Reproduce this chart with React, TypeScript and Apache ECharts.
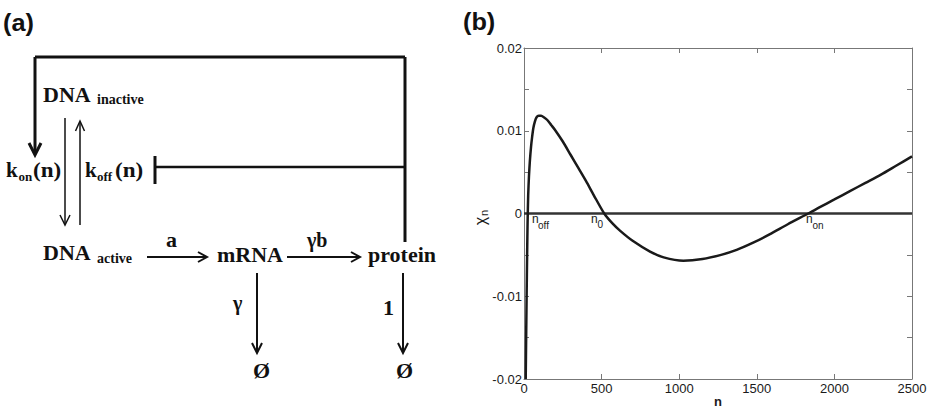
import React, { useEffect, useRef } from 'react';
import * as echarts from 'echarts';

// ---- data (panel b) ----
const nValues = [
  11, 14, 17, 20, 23, 27, 32, 38, 45, 52, 60, 70, 80, 95, 110, 130, 150, 175, 200,
  250, 300, 350, 400, 450, 517, 570, 620, 700, 812, 900, 1027, 1150, 1270, 1370,
  1480, 1585, 1700, 1832, 1900, 2000, 2100, 2200, 2300, 2400, 2500,
];
const gammaValues = [
  -0.02, -0.0148, -0.0098, -0.0052, -0.0012, 0.0022, 0.0045, 0.0064, 0.008, 0.0092,
  0.0103, 0.0111, 0.0116, 0.0118, 0.0118, 0.0116, 0.0113, 0.0107, 0.0101,
  0.0087, 0.0071, 0.0055, 0.0039, 0.0022, 0.0, -0.0012, -0.0021, -0.0033, -0.0046,
  -0.0053, -0.0057, -0.0055, -0.005, -0.0044, -0.0035, -0.0025, -0.0013, 0.0,
  0.0007, 0.0017, 0.0027, 0.0037, 0.0047, 0.0058, 0.0069,
];
const zeroLineN = [0, 2500];
const zeroLineValues = [0, 0];
const yTickLabels = ['-0.02', '-0.01', '0', '0.01', '0.02'];

const serif = '"Liberation Serif", "Times New Roman", serif';
const sans = '"Liberation Sans", Arial, Helvetica, sans-serif';
const INK = '#111';

const ln = (x1: number, y1: number, x2: number, y2: number, w = 2) => ({
  type: 'line',
  silent: true,
  shape: { x1, y1, x2, y2 },
  style: { stroke: INK, lineWidth: w },
});
const head = (pts: number[][], w = 2) => ({
  type: 'polyline',
  silent: true,
  shape: { points: pts },
  style: { stroke: INK, lineWidth: w, fill: null },
});
const tx = (
  text: string,
  x: number,
  y: number,
  size: number,
  o: { ff?: string; fw?: string; sx?: number; align?: string; color?: string } = {}
) => ({
  type: 'text',
  silent: true,
  x,
  y,
  scaleX: o.sx ?? 1,
  style: {
    text,
    fontSize: size,
    fontFamily: o.ff ?? serif,
    fontWeight: o.fw ?? 'bold',
    fill: o.color ?? INK,
    align: o.align ?? 'left',
    verticalAlign: 'middle',
  },
});

export default function App() {
  const ref = useRef<HTMLDivElement>(null);

  useEffect(() => {
    const chart = echarts.init(ref.current!, null, { renderer: 'svg' });

    const annot = { ff: sans, fw: 'normal', color: '#1a1a1a' };
    const diagram = [
      // panel labels
      tx('(a)', 3, 23, 23, { ff: sans, sx: 1.1 }),
      tx('(b)', 463, 22, 23, { ff: sans, sx: 1.1 }),
      // feedback loop
      ln(35, 57, 405, 57, 3),
      ln(35, 57, 35, 153, 3),
      head([[29, 143], [35, 155], [41, 143]], 3),
      ln(405, 57, 405, 242, 3),
      ln(155, 167, 405, 167, 2.5),
      ln(155, 156, 155, 184, 3),
      // DNA switching arrows
      ln(65, 118, 65, 224, 1.5),
      head([[60, 215], [65, 225], [70, 215]], 1.5),
      ln(80, 225, 80, 122, 1.5),
      head([[75.5, 131], [80, 121], [84.5, 131]], 1.5),
      // production arrows
      ln(147, 257, 206, 257, 2),
      head([[198, 252], [207, 257], [198, 262]], 2),
      ln(287, 257, 359, 257, 2),
      head([[351, 252], [360, 257], [351, 262]], 2),
      // degradation arrows
      ln(257, 273, 257, 352, 2),
      head([[252, 343], [257, 353], [262, 343]], 2),
      ln(403, 273, 403, 352, 2),
      head([[398, 343], [403, 353], [408, 343]], 2),
      // texts
      tx('DNA', 43, 94, 22),
      tx('inactive', 97, 99, 14),
      tx('k', 6, 170, 21),
      tx('on', 18.5, 176, 13),
      tx('(n)', 33, 170, 21, { sx: 1.1 }),
      tx('k', 85, 170, 21),
      tx('off', 97, 176, 13),
      tx('(n)', 115, 170, 21, { sx: 1.1 }),
      tx('DNA', 43, 252, 22),
      tx('active', 97, 258.5, 14),
      tx('a', 166, 239, 22),
      tx('mRNA', 217, 254, 22),
      tx('γb', 307, 240, 20),
      tx('protein', 368, 254, 22),
      tx('γ', 233, 303, 20),
      tx('1', 383, 307, 22),
      tx('Ø', 253, 370, 22),
      tx('Ø', 396, 370, 22),
      // panel (b) annotations
      tx('n', 532, 219, 12, annot),
      tx('off', 538, 225, 10, annot),
      tx('n', 591, 219, 12, annot),
      tx('0', 597.5, 224.5, 10, annot),
      tx('n', 806, 219, 12, annot),
      tx('on', 812.5, 225.5, 10, annot),
      // x axis name
      tx('n', 718, 401, 13, { ff: sans, align: 'center', color: '#1a1a1a' }),
      // y axis name χ_n (rotated)
      {
        type: 'group',
        x: 480,
        y: 221,
        rotation: Math.PI / 2,
        silent: true,
        children: [
          tx('χ', 0, 0, 16, { ...annot, align: 'center' }),
          tx('n', 5, 4, 11, annot),
        ],
      },
    ];

    const frameLine = { show: true, onZero: false, lineStyle: { color: '#777', width: 1 } };
    const frameTick = { show: true, inside: true, length: 5, lineStyle: { color: '#777', width: 1 } };

    const option: any = {
      animation: false,
      backgroundColor: '#fff',
      grid: { left: 524, top: 48, right: 23, bottom: 29, containLabel: false },
      xAxis: [
        {
          type: 'value',
          min: 0,
          max: 2500,
          interval: 500,
          position: 'bottom',
          axisLine: frameLine,
          axisTick: frameTick,
          splitLine: { show: false },
          axisLabel: {
            color: '#1a1a1a',
            fontSize: 13,
            fontFamily: sans,
            margin: 3,
            formatter: (v: number) => String(Math.round(v)),
          },
        },
        {
          type: 'value',
          min: 0,
          max: 2500,
          interval: 500,
          position: 'top',
          axisLine: frameLine,
          axisTick: frameTick,
          splitLine: { show: false },
          axisLabel: { show: false },
        },
      ],
      yAxis: [
        {
          type: 'value',
          min: -0.02,
          max: 0.02,
          interval: 0.005,
          position: 'left',
          axisLine: frameLine,
          axisTick: frameTick,
          splitLine: { show: false },
          axisLabel: {
            color: '#1a1a1a',
            fontSize: 13,
            fontFamily: sans,
            margin: 2,
            formatter: (v: number) => {
              const k = Math.round(v / 0.005);
              if (k % 2 !== 0) return '';
              return yTickLabels[k / 2 + 2] ?? '';
            },
          },
        },
        {
          type: 'value',
          min: -0.02,
          max: 0.02,
          interval: 0.005,
          position: 'right',
          axisLine: frameLine,
          axisTick: frameTick,
          splitLine: { show: false },
          axisLabel: { show: false },
        },
      ],
      series: [
        {
          type: 'line',
          xAxisIndex: 0,
          yAxisIndex: 0,
          data: zeroLineN.map((n, i) => [n, zeroLineValues[i]]),
          showSymbol: false,
          lineStyle: { color: '#333', width: 2.5 },
          silent: true,
        },
        {
          type: 'line',
          xAxisIndex: 0,
          yAxisIndex: 0,
          data: nValues.map((n, i) => [n, gammaValues[i]]),
          showSymbol: false,
          smooth: 0.25,
          clip: true,
          lineStyle: { color: '#1a1a1a', width: 2.5 },
          silent: true,
        },
      ],
      graphic: { elements: diagram },
    };

    chart.setOption(option);
    return () => chart.dispose();
  }, []);

  return (
    <div
      ref={ref}
      style={{ position: 'fixed', left: 0, top: 0, width: 935, height: 408, background: '#fff' }}
    />
  );
}
